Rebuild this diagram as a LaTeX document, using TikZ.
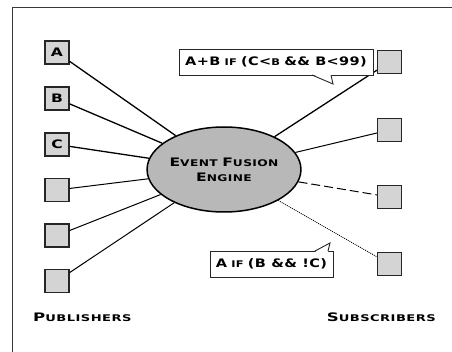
\documentclass[tikz,border=0pt]{standalone}
\usepackage{fontspec}
\usetikzlibrary{shapes.geometric}
% wide small-caps lettering, in three widths
\newfontfamily\cpfont[FakeStretch=1.42,LetterSpace=5]{DejaVu Sans}
\newfontfamily\cpmid[FakeStretch=1.33,LetterSpace=4]{DejaVu Sans}
\newfontfamily\cpnarrow[FakeStretch=1.24,LetterSpace=3]{DejaVu Sans}
\newcommand\BigL{\fontsize{11.7}{15}\selectfont}
\newcommand\SmL{\fontsize{9.2}{15}\selectfont}
\newcommand\K[1]{{\BigL #1}}
\definecolor{boxgray}{HTML}{D4D4D4}
\definecolor{enggray}{HTML}{B8B8B8}
\definecolor{framegray}{HTML}{3A3A3A}
\tikzset{
  party/.style={draw=black!85, line width=1.1pt, fill=boxgray,
    minimum width=24pt, minimum height=23pt, inner sep=0pt,
    font=\cpmid\bfseries\BigL},
  engine/.style={ellipse, draw=black, line width=1.5pt, fill=enggray,
    minimum width=138pt, minimum height=85pt, inner sep=0pt, align=center,
    font=\cpmid\bfseries\SmL},
  cond/.style={draw=black!85, line width=0.9pt, fill=white, inner sep=0pt,
    minimum height=26pt, font=\cpnarrow\bfseries\SmL},
  caption/.style={inner sep=0pt, font=\cpfont\bfseries\SmL},
  heavy/.style={line width=1.3pt},
  light/.style={line width=1pt},
  dashlink/.style={line width=1pt, dash pattern=on 9pt off 4pt},
  dotlink/.style={line width=0.8pt, dash pattern=on 1pt off 1pt},
}
\begin{document}
\begin{tikzpicture}[x=1pt,y=-1pt]
\useasboundingbox (0,0) rectangle (452,352);
% open frame
\draw[framegray, line width=1pt] (12,352) -- (12,8) -- (452,8);

% publishers
\node[party] (pA) at (57,52.5) {A};
\node[party] (pB) at (57,98.5) {B};
\node[party] (pC) at (57,144.5) {C};
\node[party] (pD) at (57,190) {};
\node[party] (pE) at (57,235.5) {};
\node[party] (pF) at (57,281) {};

% subscribers
\node[party] (s1) at (389.5,62) {};
\node[party] (s2) at (389.5,130) {};
\node[party] (s3) at (389.5,197) {};
\node[party] (s4) at (389.5,264) {};

% engine
\node[engine] (eng) at (224,169.5) {\K{E}VENT \K{F}USION\\\K{E}NGINE};

% links
\draw[heavy] (pA) -- (eng);
\draw[heavy] (pB) -- (eng);
\draw[heavy] (pC) -- (eng);
\draw[light] (pD) -- (eng);
\draw[light] (pE) -- (eng);
\draw[light] (pF) -- (eng);
\draw[heavy] (eng) -- (s1);
\draw[light] (eng) -- (s2);
\draw[dashlink] (eng) -- (s3);
\draw[dotlink] (eng) -- (s4);

% condition callouts
\node[cond, minimum width=194pt] (c1) at (276,62)
  {\K{A+B} IF \K{(C<}B \K{\&\& B<99)}};
\fill[white] (312,74) -- (333,84) -- (331,74) -- cycle;
\draw[black!85, line width=0.9pt, line join=miter] (312,75) -- (333,84) -- (331,75);

\node[cond, minimum width=123pt] (c2) at (271.5,264)
  {\K{A} IF \K{(B \&\& !C)}};
\fill[white] (315,252) -- (330,243) -- (328,252) -- cycle;
\draw[black!85, line width=0.9pt, line join=miter] (315,251) -- (330,243) -- (328,251);

% captions
\node[caption, anchor=base west] (pub) at (33,322) {\K{P}UBLISHERS};
\node[caption, anchor=base east] (sub) at (436,321) {\K{S}UBSCRIBERS};
\end{tikzpicture}
\end{document}
